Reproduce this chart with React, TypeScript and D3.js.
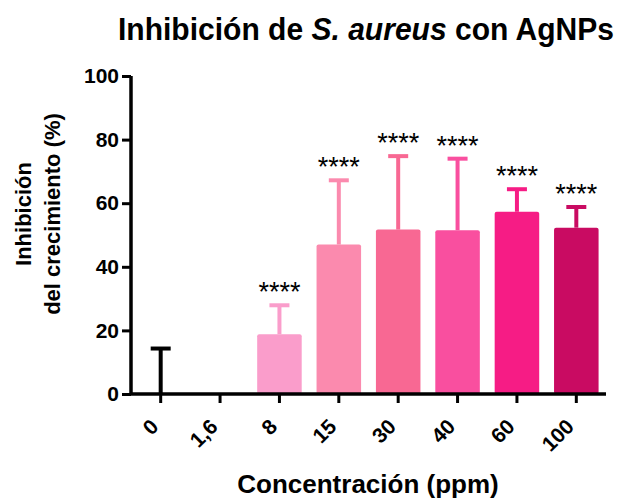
import * as d3 from "d3";
import { useEffect, useRef } from "react";

const categories = ["0", "1,6", "8", "15", "30", "40", "60", "100"];
const means = [0, 0, 18.8, 47, 51.7, 51.5, 57.3, 52.3];
const errUpper = [14.3, 0, 27.9, 67.2, 74.8, 74, 64.4, 58.8];
const stars = ["", "", "****", "****", "****", "****", "****", "****"];
const colors = ["#000000", "#000000", "#FA9DCB", "#FB8AAE", "#F86893", "#F94F9F", "#F61C85", "#C90B62"];
const yTicks = [0, 20, 40, 60, 80, 100];

const font = "Arial, 'Liberation Sans', sans-serif";

const App = () => {
	const ref = useRef<SVGSVGElement | null>(null);
	const width = 624;
	const height = 501;
	const margin = { top: 76, bottom: 107, left: 131, right: 18 };

	useEffect(() => {
		const svg = d3.select(ref.current);
		svg.selectAll("*").remove();

		const x = d3.scaleBand()
			.domain(categories)
			.range([margin.left, width - margin.right])
			.paddingInner(0.25)
			.paddingOuter(0.125);
		const y = d3.scaleLinear()
			.domain([0, 100])
			.range([height - margin.bottom, margin.top]);

		const data = categories.map((c, i) => ({ c, m: means[i], e: errUpper[i], s: stars[i], col: colors[i] }));

		// bars
		svg.append("g")
			.selectAll("rect")
			.data(data.filter(d => d.m > 0))
			.enter()
			.append("rect")
			.attr("x", d => x(d.c)!)
			.attr("y", d => y(d.m))
			.attr("width", x.bandwidth())
			.attr("height", d => y(0) - y(d.m))
			.attr("rx", 2)
			.attr("fill", d => d.col);

		// error bars + significance
		const eb = svg.append("g");
		data.filter(d => d.e > 0).forEach(d => {
			const cx = x(d.c)! + x.bandwidth() / 2;
			eb.append("line")
				.attr("x1", cx).attr("x2", cx)
				.attr("y1", y(d.m)).attr("y2", y(d.e))
				.attr("stroke", d.col).attr("stroke-width", 4);
			eb.append("line")
				.attr("x1", cx - 10).attr("x2", cx + 10)
				.attr("y1", y(d.e)).attr("y2", y(d.e))
				.attr("stroke", d.col).attr("stroke-width", 4);
			if (d.s) {
				eb.append("text")
					.attr("x", cx)
					.attr("y", y(d.e) - 4)
					.attr("text-anchor", "middle")
					.style("font-family", font)
					.style("font-size", "27px")
					.text(d.s);
			}
		});

		// y axis
		const yAxis = svg.append("g")
			.attr("transform", `translate(${margin.left}, 0)`)
			.call(d3.axisLeft(y).tickValues(yTicks).tickSize(9).tickPadding(3));
		yAxis.select(".domain").attr("stroke-width", 3.5).attr("d", `M0,${y(100)}V${y(0)}`);
		yAxis.selectAll(".tick line").attr("stroke-width", 3);
		yAxis.selectAll("text")
			.style("font-family", font)
			.style("font-size", "21px")
			.style("font-weight", "bold")
			.attr("fill", "#000");

		// x axis
		const xAxis = svg.append("g")
			.attr("transform", `translate(0, ${y(0)})`)
			.call(d3.axisBottom(x).tickSize(9));
		xAxis.select(".domain").attr("stroke-width", 3.5).attr("d", `M${margin.left},0H${width - margin.right}`);
		xAxis.selectAll(".tick line").attr("stroke-width", 3);
		xAxis.selectAll("text")
			.style("font-family", font)
			.style("font-size", "21px")
			.style("font-weight", "bold")
			.attr("fill", "#000")
			.attr("text-anchor", "end")
			.attr("dy", "0")
			.attr("y", 0)
			.attr("transform", "translate(-1, 34) rotate(-45)");

		// titles
		const title = svg.append("text")
			.attr("x", 366)
			.attr("y", 40)
			.attr("text-anchor", "middle")
			.attr("textLength", 496)
			.attr("lengthAdjust", "spacingAndGlyphs")
			.style("font-family", font)
			.style("font-size", "32px")
			.style("font-weight", "bold");
		title.append("tspan").text("Inhibición de ");
		title.append("tspan").style("font-style", "italic").text("S. aureus");
		title.append("tspan").text(" con AgNPs");

		svg.append("text")
			.attr("x", 368)
			.attr("y", 493)
			.attr("text-anchor", "middle")
			.style("font-family", font)
			.style("font-size", "26px")
			.style("font-weight", "bold")
			.text("Concentración (ppm)");

		const yl = svg.append("text")
			.attr("transform", "translate(31, 214) rotate(-90)")
			.attr("text-anchor", "middle")
			.style("font-family", font)
			.style("font-size", "22px")
			.style("font-weight", "bold");
		yl.append("tspan").attr("x", 0).attr("y", 0).text("Inhibición");
		yl.append("tspan").attr("x", 0).attr("y", 29).text("del crecimiento (%)");
	}, []);

	return (
		<svg ref={ref} width={width} height={height}
			style={{ position: "absolute", left: 0, top: 0, background: "#fff" }} />
	);
};

export default App;
